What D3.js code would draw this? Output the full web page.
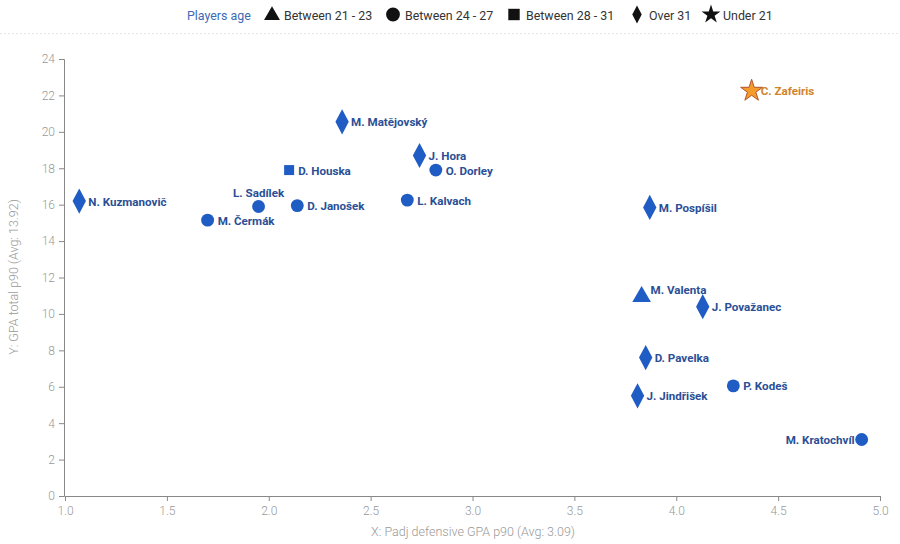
<!DOCTYPE html>
<html><head><meta charset="utf-8">
<script src="https://cdn.jsdelivr.net/npm/d3@7"></script>
<style>
body{margin:0;background:#fff;font-family:Roboto,"Noto Sans",sans-serif;}
svg{display:block;}
</style></head><body>
<svg id="c" width="900" height="544"></svg>
<script>
const players = ["N. Kuzmanovič","M. Čermák","L. Sadílek","D. Janošek","D. Houska","M. Matějovský","J. Hora","O. Dorley","L. Kalvach","C. Zafeiris","M. Pospíšil","M. Valenta","J. Považanec","D. Pavelka","P. Kodeš","J. Jindřišek","M. Kratochvíl"];
const xValues = [1.07,1.70,1.95,2.14,2.10,2.36,2.74,2.82,2.68,4.37,3.87,3.83,4.13,3.85,4.28,3.81,4.91];
const yValues = [16.2,15.15,15.9,15.95,17.9,20.55,18.7,17.9,16.25,22.25,15.85,11.0,10.4,7.6,6.05,5.5,3.1];
const ageGroups = ["Over 31","Between 24 - 27","Between 24 - 27","Between 24 - 27","Between 28 - 31","Over 31","Over 31","Between 24 - 27","Between 24 - 27","Under 21","Over 31","Between 21 - 23","Over 31","Over 31","Between 24 - 27","Over 31","Between 24 - 27"];
const labelPos = ["right","right","top","right","right","right","right","right","right","right","right","topright","right","right","right","right","left"];
const legendGroups = ["Between 21 - 23","Between 24 - 27","Between 28 - 31","Over 31","Under 21"];
const xTicks = [1.0,1.5,2.0,2.5,3.0,3.5,4.0,4.5,5.0];
const yTicks = [0,2,4,6,8,10,12,14,16,18,20,22,24];

const svg = d3.select("#c");
const x = d3.scaleLinear().domain([1,5]).range([65,880]);
const y = d3.scaleLinear().domain([0,24]).range([496,59]);

const symType = {
  "Between 21 - 23": d3.symbolTriangle,
  "Between 24 - 27": d3.symbolCircle,
  "Between 28 - 31": d3.symbolSquare,
  "Over 31": "diamond",
  "Under 21": d3.symbolStar
};
function pathFor(g, size){
  if(symType[g]==="diamond"){
    const w = Math.sqrt(size)*0.45, h = Math.sqrt(size)*0.85;
    return `M0,${-h}L${w},0L0,${h}L${-w},0Z`;
  }
  return d3.symbol().type(symType[g]).size(size)();
}

// separator
svg.append("line").attr("x1",0).attr("x2",900).attr("y1",33.5).attr("y2",33.5)
  .attr("stroke","#e6e6e6").attr("stroke-dasharray","2,2");

// legend
const lg = svg.append("g").attr("font-size",12.4).attr("fill","#333");
lg.append("text").attr("x",187).attr("y",19.5).attr("fill","#3d6bb3").text("Players age");
const legX = [266,387,508,631,705];
const legSize = {"Between 21 - 23":110,"Between 24 - 27":150,"Between 28 - 31":130,"Over 31":110,"Under 21":110};
legendGroups.forEach((g,i)=>{
  lg.append("path").attr("d",pathFor(g,legSize[g])).attr("transform",`translate(${legX[i]+6},${g==="Between 21 - 23"?15.5:14.5})`).attr("fill","#111");
  lg.append("text").attr("x",legX[i]+18).attr("y",19.5).attr("fill","#333").text(g);
});

// axes
const xAxis = svg.append("g").attr("transform","translate(0,496)")
  .call(d3.axisBottom(x).tickValues(xTicks).tickFormat(d3.format(".1f")).tickSizeOuter(0).tickSize(5));
const yAxis = svg.append("g").attr("transform","translate(64,0)")
  .call(d3.axisLeft(y).tickValues(yTicks).tickSizeOuter(0).tickSize(5));
[xAxis,yAxis].forEach(a=>{
  a.select(".domain").attr("stroke","#888");
  a.selectAll(".tick line").attr("stroke","#888");
  a.selectAll(".tick text").attr("fill","#999").attr("font-size",12).attr("font-family","Roboto").attr("font-weight",300);
});
xAxis.selectAll(".tick text").attr("dy","0.9em");
yAxis.selectAll(".tick text").attr("dx","-1");

svg.append("text").attr("x",473).attr("y",536).attr("text-anchor","middle")
  .attr("fill","#999").attr("font-size",12.5).attr("font-weight",300)
  .text("X: Padj defensive GPA p90 (Avg: 3.09)");
svg.append("text").attr("transform","translate(18,277) rotate(-90)").attr("text-anchor","middle")
  .attr("fill","#999").attr("font-size",12.5).attr("font-weight",300)
  .text("Y: GPA total p90 (Avg: 13.92)");

// points
const data = players.map((p,i)=>({name:p,x:xValues[i],y:yValues[i],g:ageGroups[i],pos:labelPos[i]}));
const ptSize = {"Between 21 - 23":150,"Between 24 - 27":130,"Between 28 - 31":100,"Over 31":220,"Under 21":150};
const pts = svg.append("g").selectAll("g").data(data).join("g")
  .attr("transform",d=>`translate(${x(d.x)},${y(d.y)})`);
pts.append("path").attr("d",d=>pathFor(d.g,ptSize[d.g]))
  .attr("transform",d=>d.g==="Between 21 - 23"?"translate(0,1)":null)
  .attr("fill",d=>d.g==="Under 21"?"#f39b2b":"#1f5cc4")
  .attr("stroke",d=>d.g==="Under 21"?"#b5532a":"none").attr("stroke-width",1);
pts.append("text")
  .attr("x",d=>d.pos==="right"?(d.g==="Over 31"||d.g==="Under 21"||d.g==="Between 28 - 31"?9:10):d.pos==="topright"?9:d.pos==="left"?-7:0)
  .attr("y",d=>d.pos==="top"?-9:d.pos==="topright"?-1.5:4.5)
  .attr("text-anchor",d=>d.pos==="left"?"end":d.pos==="top"?"middle":"start")
  .attr("font-size",11.6).attr("font-weight",700)
  .attr("fill",d=>d.g==="Under 21"?"#d0842a":"#2a4f96")
  .text(d=>d.name);
</script>
</body></html>
